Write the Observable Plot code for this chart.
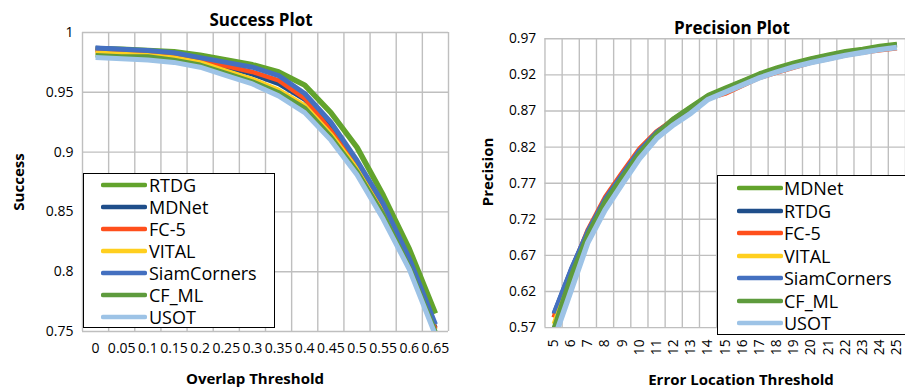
<!DOCTYPE html>
<html><head><meta charset="utf-8">
<script src="https://cdn.jsdelivr.net/npm/d3@7"></script>
<script src="https://cdn.jsdelivr.net/npm/@observablehq/plot@0.6"></script>
<style>
body{margin:0;background:#fff;overflow:hidden;}
#root{position:relative;width:905px;height:390px;overflow:hidden;font-family:"Open Sans",sans-serif;color:#000;background:#fff;}
.abs{position:absolute;white-space:nowrap;line-height:1;}
.title{font-weight:bold;font-size:17px;transform:translate(-50%,-50%);}
.axt{font-weight:bold;font-size:15px;transform:translate(-50%,-50%);}
.yt{font-weight:bold;font-size:15px;transform:translate(-50%,-50%) rotate(-90deg);}
.legend{position:absolute;background:#fff;border:1.6px solid #000;box-sizing:border-box;}
.lrow{position:absolute;left:0;height:20px;display:flex;align-items:center;font-size:18px;transform:translateY(-50%);}
.plotbox{position:absolute;top:0;}
</style></head>
<body><div id="root"></div>
<script>
// ---------- Success plot data ----------
const overlapLabels = ["0","0.05","0.1","0.15","0.2","0.25","0.3","0.35","0.4","0.45","0.5","0.55","0.6","0.65"];
const successTicks = [0.75, 0.8, 0.85, 0.9, 0.95, 1];
const successNames = ["RTDG","MDNet","FC-5","VITAL","SiamCorners","CF_ML","USOT"];
const sRTDG        = [0.986,0.986,0.985,0.984,0.981,0.977,0.973,0.967,0.956,0.933,0.904,0.864,0.819,0.765];
const sMDNet       = [0.987,0.986,0.984,0.981,0.977,0.971,0.965,0.957,0.944,0.920,0.889,0.852,0.807,0.753];
const sFC5         = [0.985,0.984,0.983,0.981,0.977,0.972,0.967,0.960,0.945,0.918,0.888,0.851,0.806,0.752];
const sVITAL       = [0.983,0.982,0.981,0.979,0.975,0.968,0.961,0.952,0.939,0.915,0.886,0.849,0.805,0.748];
const sSiamCorners = [0.987,0.986,0.985,0.983,0.979,0.975,0.971,0.964,0.949,0.925,0.893,0.857,0.811,0.756];
const sCF_ML       = [0.981,0.980,0.980,0.977,0.973,0.966,0.959,0.950,0.937,0.913,0.884,0.848,0.804,0.750];
const sUSOT        = [0.979,0.978,0.977,0.975,0.971,0.964,0.957,0.947,0.933,0.910,0.881,0.844,0.802,0.747];

// ---------- Precision plot data ----------
const errorLabels = ["5","6","7","8","9","10","11","12","13","14","15","16","17","18","19","20","21","22","23","24","25"];
const precisionTicks = [0.57, 0.62, 0.67, 0.72, 0.77, 0.82, 0.87, 0.92, 0.97];
const precisionNames = ["MDNet","RTDG","FC-5","VITAL","SiamCorners","CF_ML","USOT"];
const pMDNet       = [0.566,0.638,0.699,0.744,0.779,0.813,0.840,0.860,0.876,0.892,0.902,0.912,0.922,0.930,0.937,0.943,0.948,0.953,0.956,0.960,0.963];
const pRTDG        = [0.589,0.650,0.704,0.749,0.783,0.816,0.841,0.858,0.874,0.889,0.899,0.909,0.919,0.927,0.934,0.940,0.945,0.950,0.954,0.958,0.961];
const pFC5         = [0.584,0.647,0.706,0.751,0.785,0.818,0.842,0.858,0.873,0.887,0.894,0.905,0.916,0.923,0.930,0.937,0.942,0.947,0.951,0.954,0.957];
const pVITAL       = [0.575,0.643,0.700,0.745,0.780,0.813,0.839,0.857,0.873,0.888,0.898,0.908,0.918,0.926,0.933,0.939,0.944,0.949,0.953,0.957,0.960];
const pSiamCorners = [0.590,0.651,0.705,0.749,0.783,0.816,0.841,0.858,0.874,0.889,0.899,0.909,0.919,0.927,0.934,0.940,0.945,0.950,0.954,0.958,0.961];
const pCF_ML       = [0.568,0.641,0.700,0.745,0.779,0.812,0.839,0.859,0.875,0.891,0.901,0.911,0.921,0.929,0.936,0.942,0.947,0.952,0.955,0.959,0.962];
const pUSOT        = [0.552,0.620,0.688,0.733,0.769,0.804,0.832,0.851,0.867,0.886,0.896,0.906,0.916,0.924,0.931,0.937,0.942,0.947,0.951,0.955,0.958];

// ---------- styles ----------
const GREEN_BRIGHT = "#62a32c", DARK_BLUE = "#1f4e8a", ORANGE = "#ff4f1c", YELLOW = "#ffcf1f",
      BLUE = "#4470c0", GREEN_MUTED = "#5e9b3d", LIGHT_BLUE = "#9dc3e6";
const GRID = "#bfbfbf";

const root = document.getElementById("root");

function addText(cls, text, x, y) {
  const d = document.createElement("div");
  d.className = "abs " + cls;
  d.textContent = text;
  d.style.left = x + "px";
  d.style.top = y + "px";
  root.appendChild(d);
}

function panel(cfg) {
  const n = cfg.labels.length;
  const marks = [
    Plot.ruleY(cfg.ticks, {stroke: GRID, strokeWidth: 1.4}),
    Plot.ruleX(d3.range(n + 1), {x: d => d - 0.5, stroke: GRID, strokeWidth: 1.4}),
    Plot.axisY(cfg.ticks, {tickSize: 0, tickPadding: 9, tickFormat: d => String(+d.toFixed(2)), fontSize: 14, label: null}),
    cfg.rotate
      ? Plot.axisX(d3.range(n), {tickSize: 0, tickPadding: 12, tickRotate: -90, tickFormat: i => cfg.labels[i], fontSize: 14, label: null})
      : Plot.axisX(d3.range(n), {tickSize: 0, tickPadding: 12, tickFormat: i => cfg.labels[i], fontSize: 14, label: null})
  ];
  cfg.series.forEach((s) => {
    marks.push(Plot.line(s.values, {x: (d, i) => i, y: d => d, stroke: s.color, strokeWidth: s.width,
      strokeLinejoin: "round", strokeLinecap: "butt", clip: true}));
  });
  const p = Plot.plot({
    width: cfg.width, height: 390,
    marginLeft: cfg.ml, marginRight: cfg.mr, marginTop: cfg.mt, marginBottom: cfg.mb,
    style: {fontFamily: "'Open Sans', sans-serif", fontSize: "14px", color: "#000", background: "transparent", overflow: "visible"},
    x: {domain: [-0.5, n - 0.5], axis: null},
    y: {domain: cfg.domain, axis: null},
    marks
  });
  const box = document.createElement("div");
  box.className = "plotbox";
  box.style.left = cfg.left + "px";
  box.appendChild(p);
  root.appendChild(box);
}

function legend(items, left, top, width, height, rowYs, lineX0, lineX1, textX) {
  const lg = document.createElement("div");
  lg.className = "legend";
  lg.style.left = left + "px"; lg.style.top = top + "px";
  lg.style.width = width + "px"; lg.style.height = height + "px";
  items.forEach((it, i) => {
    const row = document.createElement("div");
    row.className = "lrow";
    row.style.top = (rowYs[i] - top) + "px";
    row.style.left = (lineX0 - left - 2) + "px";
    const w = lineX1 - lineX0;
    row.innerHTML = `<svg width="${w + 4}" height="10" style="display:block"><line x1="2" y1="5" x2="${w + 2}" y2="5" stroke="${it.color}" stroke-width="4.5" stroke-linecap="round"/></svg><span style="margin-left:${textX - lineX1 - 2}px">${it.name}</span>`;
    lg.appendChild(row);
  });
  root.appendChild(lg);
}

// ---------- Success plot ----------
const successSeries = [
  {name: successNames[0], values: sRTDG, color: GREEN_BRIGHT, width: 5.5},
  {name: successNames[1], values: sMDNet, color: DARK_BLUE, width: 4.5},
  {name: successNames[2], values: sFC5, color: ORANGE, width: 4.5},
  {name: successNames[3], values: sVITAL, color: YELLOW, width: 4.5},
  {name: successNames[4], values: sSiamCorners, color: BLUE, width: 5},
  {name: successNames[5], values: sCF_ML, color: GREEN_MUTED, width: 4.5},
  {name: successNames[6], values: sUSOT, color: LIGHT_BLUE, width: 5}
];
panel({left: 0, width: 460, ml: 82, mr: 12, mt: 32, mb: 59, labels: overlapLabels, ticks: successTicks,
  domain: [0.75, 1], series: successSeries, rotate: false});
addText("title", "Success Plot", 261, 19);
addText("axt", "Overlap Threshold", 255, 378);
addText("yt", "Success", 18, 182);
legend(successSeries, 82.5, 172.5, 192, 155, [184, 206, 228, 250, 272, 294, 316], 102, 144, 148);

// ---------- Precision plot ----------
const precisionSeries = [
  {name: precisionNames[0], values: pMDNet, color: GREEN_BRIGHT, width: 4.5},
  {name: precisionNames[1], values: pRTDG, color: DARK_BLUE, width: 4},
  {name: precisionNames[2], values: pFC5, color: ORANGE, width: 4.5},
  {name: precisionNames[3], values: pVITAL, color: YELLOW, width: 4},
  {name: precisionNames[4], values: pSiamCorners, color: BLUE, width: 4},
  {name: precisionNames[5], values: pCF_ML, color: GREEN_MUTED, width: 4.5},
  {name: precisionNames[6], values: pUSOT, color: LIGHT_BLUE, width: 5.5}
];
panel({left: 460, width: 453, ml: 86, mr: 0, mt: 39, mb: 57, labels: errorLabels, ticks: precisionTicks,
  domain: [0.57, 0.97], series: precisionSeries, rotate: true});
addText("title", "Precision Plot", 732, 27);
addText("axt", "Error Location Threshold", 741, 379);
addText("yt", "Precision", 487, 172);
legend(precisionSeries, 716.5, 175, 220, 160, [187, 210, 232, 255, 277, 300, 322], 738, 780, 783);
</script>
</body></html>
